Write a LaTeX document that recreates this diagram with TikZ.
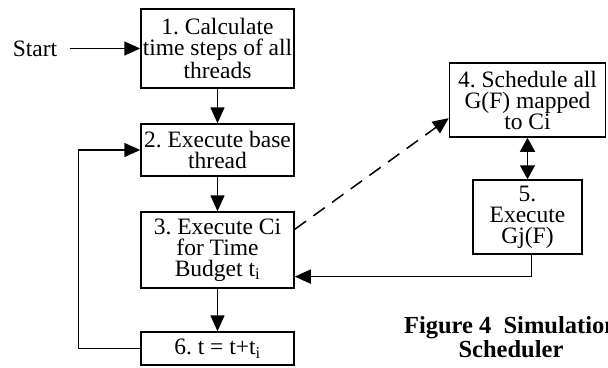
\documentclass[tikz,border=0pt]{standalone}
\usepackage{fontspec}
\setmainfont{Liberation Serif}
\usetikzlibrary{arrows.meta}

\newcommand{\boxfont}{\fontsize{23.5}{21}\selectfont\frenchspacing}
\newcommand{\capfont}{\fontsize{24.5}{24}\selectfont\bfseries}

\begin{document}
\begin{tikzpicture}[x=1pt, y=-1pt,
        stepbox/.style={draw, line width=1.5pt, inner sep=0pt, align=center, font=\boxfont},
        arr/.style={line width=1.5pt, -{Triangle[length=16pt,width=14pt]}},
        dbl/.style={line width=1.5pt, {Triangle[length=14pt,width=15pt]}-{Triangle[length=14pt,width=15pt]}}]
        \useasboundingbox (0,0) rectangle (608,367);

        \node [font=\boxfont, inner sep=0pt] (start) at (35, 48.5) {Start};
        \node [stepbox, minimum width=153pt, minimum height=79pt] (calc) at (217.5, 48.5) {1. Calculate\\time steps of all\\threads};
        \node [stepbox, minimum width=153pt, minimum height=52pt] (base) at (217.5, 150) {2. Execute base\\thread};
        \node [stepbox, minimum width=153pt, minimum height=76pt] (ci) at (217.5, 250) {3. Execute Ci\\for Time\\Budget t\textsubscript{i}};
        \node [stepbox, minimum width=153pt, minimum height=33pt] (tnext) at (217.5, 348.5) {6. t = t+t\textsubscript{i}};
        \node [stepbox, minimum width=156pt, minimum height=74pt] (sched) at (527.5, 100) {4. Schedule all\\G(F) mapped\\to Ci};
        \node [stepbox, minimum width=109pt, minimum height=74pt] (gj) at (527.5, 217) {5.\\Execute\\Gj(F)};
        \node [font=\capfont, align=center, inner sep=0pt] (cap) at (511, 337) {Figure 4\ \ Simulation\\Scheduler};

        \draw [arr, shorten <=13pt] (start) -- (calc);
        \draw [arr] (calc) -- (base);
        \draw [arr] (base) -- (ci);
        \draw [arr] (ci) -- (tnext);
        \draw [arr] (tnext.west) -- ++(-62, 0) |- (base.west);
        \draw [arr, dash pattern=on 14pt off 9pt] (ci.15) -- (sched.193);
        \draw [dbl] (sched) -- (gj);
        \draw [arr] ([xshift=4pt]gj.south) |- (ci.-19);
    \end{tikzpicture}
\end{document}
